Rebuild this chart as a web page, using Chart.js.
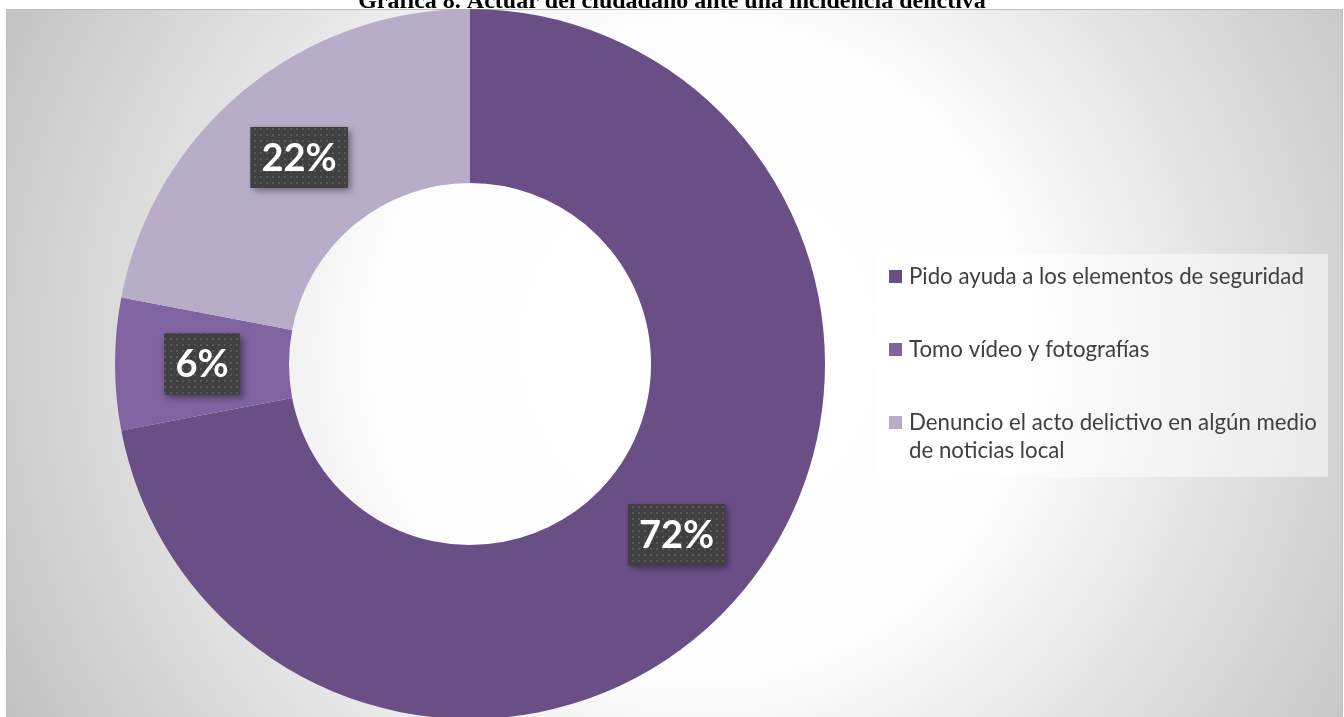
<!DOCTYPE html>
<html>
<head>
<meta charset="utf-8">
<script src="https://cdn.jsdelivr.net/npm/chart.js@4.4.1/dist/chart.umd.min.js"></script>
<style>
html,body{margin:0;padding:0;background:#fff;overflow:hidden;}
canvas{display:block;}
</style>
</head>
<body>
<canvas id="c" width="1344" height="717"></canvas>
<script>
const titleText = 'Gráfica 8. Actuar del ciudadano ante una incidencia delictiva';
const categories = [
  'Pido ayuda a los elementos de seguridad',
  'Tomo vídeo y fotografías',
  'Denuncio el acto delictivo en algún medio de noticias local'
];
const values = [72, 6, 22];
const colors = ['#6a4f87', '#7f64a1', '#b8adc9'];

function dotPattern(ctx) {
  const p = document.createElement('canvas');
  p.width = 6; p.height = 6;
  const g = p.getContext('2d');
  g.fillStyle = '#404040'; g.fillRect(0, 0, 6, 6);
  g.fillStyle = '#585858'; g.fillRect(2, 2, 2, 2);
  return ctx.createPattern(p, 'repeat');
}

const bgPlugin = {
  id: 'bg',
  beforeDraw(chart) {
    const ctx = chart.ctx;
    ctx.save();
    const x0 = 6, y0 = 9, x1 = 1343, y1 = 717;
    const cx = 700, cy = 350;
    const g = ctx.createRadialGradient(cx, cy, 0, cx, cy, 780);
    g.addColorStop(0, '#ffffff');
    g.addColorStop(0.42, '#fdfdfd');
    g.addColorStop(1, '#c2c2c2');
    ctx.fillStyle = g;
    ctx.fillRect(x0, y0, x1 - x0, y1 - y0);
    ctx.strokeStyle = '#bdbdbd';
    ctx.lineWidth = 1;
    ctx.strokeRect(x0 + 0.5, y0 + 0.5, x1 - x0 - 1, y1 - y0 + 5);
    ctx.restore();
  }
};

const overlayPlugin = {
  id: 'overlay',
  afterDraw(chart) {
    const ctx = chart.ctx;
    ctx.save();
    // title (clipped at top)
    let fs = 21;
    ctx.font = 'bold ' + fs + 'px "Liberation Serif"';
    const w = ctx.measureText(titleText).width;
    fs = fs * 628 / w;
    ctx.font = 'bold ' + fs.toFixed(2) + 'px "Liberation Serif"';
    ctx.fillStyle = '#000';
    ctx.textAlign = 'center';
    ctx.textBaseline = 'alphabetic';
    ctx.fillText(titleText, 672, 8);

    // data labels
    const meta = chart.getDatasetMeta(0);
    const pat = dotPattern(ctx);
    meta.data.forEach((arc, i) => {
      const pt = arc.getCenterPoint();
      const txt = values[i] + '%';
      ctx.font = 'bold 38px Lato';
      const tw = ctx.measureText(txt).width;
      const bw = tw + 22, bh = 61;
      const bx = pt.x - bw / 2, by = pt.y - bh / 2;
      ctx.save();
      ctx.shadowColor = 'rgba(0,0,0,0.45)';
      ctx.shadowBlur = 7;
      ctx.shadowOffsetX = 3;
      ctx.shadowOffsetY = 3;
      ctx.fillStyle = '#404040';
      ctx.fillRect(bx, by, bw, bh);
      ctx.restore();
      ctx.fillStyle = pat;
      ctx.fillRect(bx, by, bw, bh);
      ctx.fillStyle = '#ffffff';
      ctx.textAlign = 'center';
      ctx.textBaseline = 'middle';
      ctx.fillText(txt, pt.x, pt.y + 1);
    });

    // legend
    ctx.fillStyle = 'rgba(255,255,255,0.5)';
    ctx.fillRect(877, 254, 451, 223);
    let lfs = 20;
    ctx.font = lfs + 'px Lato';
    const w0 = ctx.measureText(categories[0]).width;
    lfs = lfs * 395 / w0;
    ctx.font = lfs.toFixed(2) + 'px Lato';
    ctx.textAlign = 'left';
    ctx.textBaseline = 'middle';
    const maxW = 412;
    let y = 277;
    chart.data.labels.forEach((lab, i) => {
      const words = lab.split(' ');
      const lines = [];
      let cur = '';
      words.forEach(wd => {
        const t = cur ? cur + ' ' + wd : wd;
        if (ctx.measureText(t).width > maxW && cur) { lines.push(cur); cur = wd; }
        else cur = t;
      });
      if (cur) lines.push(cur);
      ctx.fillStyle = chart.data.datasets[0].backgroundColor[i];
      ctx.fillRect(889, y - 7, 13, 13);
      ctx.fillStyle = '#404040';
      lines.forEach((ln, k) => ctx.fillText(ln, 909, y + k * 28));
      y += 73 + (lines.length - 1) * 28;
    });
    ctx.restore();
  }
};

new Chart(document.getElementById('c'), {
  type: 'doughnut',
  data: {
    labels: categories,
    datasets: [{
      data: values,
      backgroundColor: colors,
      borderWidth: 0,
      clip: false
    }]
  },
  options: {
    responsive: false,
    animation: false,
    radius: 355,
    cutout: '51%',
    layout: { padding: { left: 115, right: 519, top: 11, bottom: 0 } },
    plugins: {
      legend: { display: false },
      title: { display: false },
      tooltip: { enabled: false }
    },
    events: []
  },
  plugins: [bgPlugin, overlayPlugin]
});
</script>
</body>
</html>
